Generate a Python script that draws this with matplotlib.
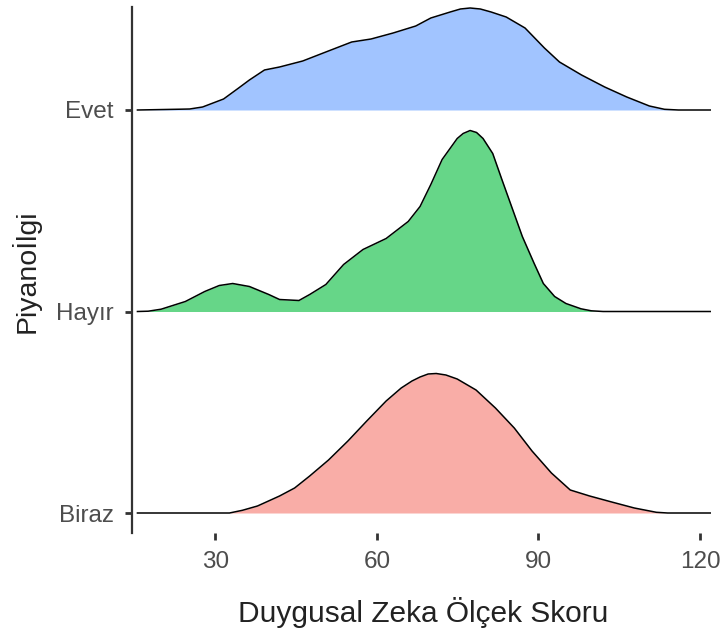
import numpy as np
import matplotlib
matplotlib.use('Agg')
import matplotlib.pyplot as plt

plt.rcParams['font.family'] = ['Liberation Sans', 'DejaVu Sans']

groups = ['Biraz', 'Hayır', 'Evet']
colors = ['#F9ADA7', '#66D688', '#A1C4FF']

# egrilerden okunan degerler (skor, yukseklik)
biraz_x = [15.5, 32.6, 35.0, 37.8, 41.9, 44.7, 47.5, 51.0, 54.6, 58.1, 61.7, 64.5, 66.5, 68.0,
           69.5, 71.0, 72.8, 74.9, 78.4, 82.0, 85.5, 88.8, 92.4, 95.9, 99.5, 103.6, 107.8,
           111.9, 114.0, 121.9]
biraz_h = [0, 0, 2.7, 7, 17, 25, 37, 53, 72, 92, 112, 125, 132, 136,
           139, 139.5, 138, 134, 123, 105, 85, 62, 40, 23, 17, 11, 5,
           0.7, 0, 0]

hayir_x = [15.5, 17.5, 19.9, 24.4, 28.0, 30.7, 33.2, 36.3, 39.9, 41.9, 45.5, 47.5, 50.5,
           53.8, 57.4, 61.7, 65.8, 68.0, 70.0, 72.1, 74.9, 76.0, 77.3, 78.5, 79.7, 81.5,
           83.2, 85.0, 87.0, 89.2, 90.9, 93.0, 95.1, 97.9, 99.8, 102.0, 121.9]
hayir_h = [0, 0.3, 2.3, 10, 20, 26, 28, 25, 17, 12, 11, 17, 27,
           47, 62, 73, 90, 105, 127, 152, 173, 178, 181, 179, 173, 158,
           132, 105, 75, 48, 28, 15, 8, 2.7, 0.7, 0, 0]

evet_x = [15.5, 23.5, 25.2, 27.6, 31.5, 34.3, 36.3, 39.1, 41.9, 46.2, 50.5, 55.3, 58.9,
          63.0, 67.2, 70.0, 73.6, 75.5, 77.3, 79.2, 81.2, 84.0, 87.5, 91.1, 93.9, 98.0,
          102.3, 106.4, 110.6, 113.4, 116.0, 121.9]
evet_h = [0, 0.8, 1, 3, 11, 22, 30, 40, 43, 49, 58, 68, 71,
          77, 84, 92, 98, 101, 102, 101, 98, 93, 82, 62, 48, 35,
          23, 13, 4, 0.7, 0, 0]

curves = [(biraz_x, biraz_h), (hayir_x, hayir_h), (evet_x, evet_h)]
scale = 1 / 201.5

fig = plt.figure(figsize=(7.23, 6.33), dpi=100)
ax = fig.add_axes([132 / 723, 1 - 533 / 633, (715.6 - 132) / 723, (533 - 7) / 633])

for i in range(len(groups) - 1, -1, -1):
    x, h = curves[i]
    x = np.array(x)
    y = i + np.array(h) * scale
    ax.fill_between(x, i, y, color=colors[i], lw=0)
    ax.plot(x, y, color='black', lw=1.1)

ax.set_xlim(14.49, 122.9)
ax.set_ylim(-20 / 201.5, 2 + 103 / 201.5)
ax.set_xticks([30, 60, 90, 120])
ax.set_yticks(range(len(groups)))
ax.set_yticklabels(groups)

for s in ['top', 'right', 'bottom']:
    ax.spines[s].set_visible(False)
ax.spines['left'].set_color('#333333')
ax.spines['left'].set_linewidth(1.6)

ax.tick_params(length=5, width=2, color='#333333', labelsize=17.5, labelcolor='#4D4D4D')
ax.tick_params(axis='x', pad=8)
ax.tick_params(axis='y', pad=8)

fig.text(423 / 723, 1 - 621.7 / 633, 'Duygusal Zeka Ölçek Skoru', ha='center', va='baseline',
         fontsize=21.5, color='#222222')
fig.text(35 / 723, 1 - 271 / 633, 'Piyanoİlgi', rotation=90, rotation_mode='anchor',
         ha='center', va='baseline', fontsize=20.5, color='#222222')

fig.savefig('out.png', dpi=100)
